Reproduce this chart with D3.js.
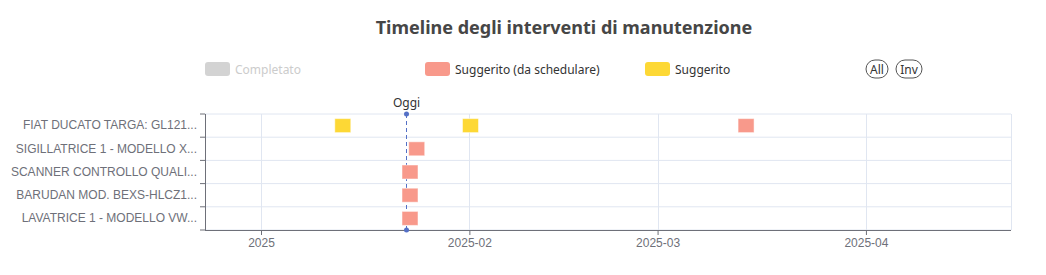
<!DOCTYPE html>
<html>
<head>
<meta charset="utf-8">
<script src="https://cdn.jsdelivr.net/npm/d3@7"></script>
<style>
  body { margin: 0; background: #fff; }
  svg { display: block; font-family: "Noto Sans", "Open Sans", sans-serif; }
</style>
</head>
<body>
<svg width="1046" height="275"></svg>
<script>
// rows of the y axis (top to bottom), labels already truncated as shown
const machines = [
  'FIAT DUCATO TARGA: GL121...',
  'SIGILLATRICE 1 - MODELLO X...',
  'SCANNER CONTROLLO QUALI...',
  'BARUDAN MOD. BEXS-HLCZ1...',
  'LAVATRICE 1 - MODELLO VW...'
];

const legendNames = ['Completato', 'Suggerito (da schedulare)', 'Suggerito'];
const legendColors = ['#d3d3d3', '#f8998b', '#fdd835'];
const legendOff = ['Completato'];

// interventions: [machine, date]
const completed = [];
const toSchedule = [
  ['FIAT DUCATO TARGA: GL121...', '2025-03-14T04:00'],
  ['SIGILLATRICE 1 - MODELLO X...', '2025-01-24T04:00'],
  ['SCANNER CONTROLLO QUALI...', '2025-01-23T04:00'],
  ['BARUDAN MOD. BEXS-HLCZ1...', '2025-01-23T04:00'],
  ['LAVATRICE 1 - MODELLO VW...', '2025-01-23T04:00']
];
const suggested = [
  ['FIAT DUCATO TARGA: GL121...', '2025-01-13T04:00'],
  ['FIAT DUCATO TARGA: GL121...', '2025-02-01T04:00']
];

const today = '2025-01-22T14:00';
const xDomain = ['2024-12-23T16:00', '2025-04-22T14:00'];
const xTicks = ['2025-01-01', '2025-02-01', '2025-03-01', '2025-04-01'];

const parse = d3.isoParse;
const svg = d3.select('svg');
const grid = {left: 205, right: 1011, top: 114, bottom: 230};

const x = d3.scaleUtc().domain(xDomain.map(parse)).range([grid.left, grid.right]);
const y = d3.scaleBand().domain(machines).range([grid.top, grid.bottom]);

// title
svg.append('text').attr('x', 564).attr('y', 34).attr('text-anchor', 'middle')
  .attr('font-size', 18).attr('font-weight', 'bold').attr('fill', '#464646')
  .text('Timeline degli interventi di manutenzione');

// legend
const legendX = [205, 425, 645];
legendNames.forEach(function(name, i) {
  var off = legendOff.indexOf(name) >= 0;
  var g = svg.append('g').attr('transform', 'translate(' + legendX[i] + ',62)');
  g.append('rect').attr('width', 25).attr('height', 14).attr('rx', 3)
    .attr('fill', off ? '#d3d3d3' : legendColors[i]);
  g.append('text').attr('x', 30).attr('y', 11.5).attr('font-size', 12)
    .attr('fill', off ? '#ccc' : '#333').text(name);
});

// All / Inv buttons
[['All', 866, 22], ['Inv', 896, 26]].forEach(function(b) {
  svg.append('rect').attr('x', b[1]).attr('y', 60).attr('width', b[2]).attr('height', 18)
    .attr('rx', 9).attr('fill', 'none').attr('stroke', '#555').attr('stroke-width', 1);
  svg.append('text').attr('x', b[1] + b[2] / 2).attr('y', 73.5).attr('text-anchor', 'middle')
    .attr('font-size', 12).attr('fill', '#333').text(b[0]);
});

// split lines
svg.append('g').selectAll('line').data(machines.concat(['end']))
  .join('line')
  .attr('x1', grid.left).attr('x2', grid.right)
  .attr('y1', function(d, i) { return grid.top + i * y.bandwidth(); })
  .attr('y2', function(d, i) { return grid.top + i * y.bandwidth(); })
  .attr('stroke', '#e0e6f1');
svg.append('g').selectAll('line').data(xTicks.map(parse))
  .join('line')
  .attr('x1', function(d) { return Math.round(x(d)) + 0.5; })
  .attr('x2', function(d) { return Math.round(x(d)) + 0.5; })
  .attr('y1', grid.top).attr('y2', grid.bottom)
  .attr('stroke', '#e0e6f1');
svg.append('line').attr('x1', grid.right + 0.5).attr('x2', grid.right + 0.5)
  .attr('y1', grid.top).attr('y2', grid.bottom).attr('stroke', '#e0e6f1');

// x axis
const xAxis = svg.append('g').attr('transform', 'translate(0,' + grid.bottom + ')')
  .call(d3.axisBottom(x).tickValues(xTicks.map(parse)).tickSize(5).tickPadding(3)
    .tickFormat(function(d) { return d.getUTCMonth() === 0 ? d3.utcFormat('%Y')(d) : d3.utcFormat('%Y-%m')(d); }));
xAxis.select('.domain').attr('stroke', '#6e7079').attr('d', 'M' + grid.left + ',0.5H' + grid.right);
xAxis.selectAll('.tick line').attr('stroke', '#6e7079');
xAxis.selectAll('.tick text').attr('font-size', 12).attr('fill', '#6e7079').attr('font-family', null);

// y axis
const yAxis = svg.append('g').attr('transform', 'translate(' + grid.left + ',0)')
  .call(d3.axisLeft(y).tickSize(0).tickPadding(8));
yAxis.select('.domain').attr('stroke', '#6e7079').attr('d', 'M0.5,' + grid.top + 'V' + (grid.bottom + 0.5));
yAxis.selectAll('.tick text').attr('font-size', 12).attr('fill', '#6e7079').attr('font-family', null);
yAxis.append('g').selectAll('line').data(machines.concat(['end']))
  .join('line')
  .attr('x1', -5).attr('x2', 0)
  .attr('y1', function(d, i) { return grid.top + i * y.bandwidth(); })
  .attr('y2', function(d, i) { return grid.top + i * y.bandwidth(); })
  .attr('stroke', '#6e7079');

// today marker
const tx = Math.round(x(parse(today))) + 0.5;
svg.append('line').attr('x1', tx).attr('x2', tx).attr('y1', grid.top).attr('y2', grid.bottom)
  .attr('stroke', '#5470c6').attr('stroke-dasharray', '4,3');
[grid.top, grid.bottom].forEach(function(yy) {
  svg.append('circle').attr('cx', tx).attr('cy', yy).attr('r', 2.5).attr('fill', '#5470c6');
});
svg.append('text').attr('x', tx).attr('y', 107).attr('text-anchor', 'middle')
  .attr('font-size', 12).attr('fill', '#333').text('Oggi');

// markers
function drawSeries(data, color) {
  svg.append('g').selectAll('rect').data(data).join('rect')
    .attr('x', function(d) { return x(parse(d[1])) - 8; })
    .attr('y', function(d) { return y(d[0]) + y.bandwidth() / 2 - 7; })
    .attr('width', 16).attr('height', 14)
    .attr('fill', color).attr('stroke', '#fff').attr('stroke-opacity', 0.5).attr('stroke-width', 1);
}
drawSeries(completed, legendColors[0]);
drawSeries(toSchedule, legendColors[1]);
drawSeries(suggested, legendColors[2]);
</script>
</body>
</html>
